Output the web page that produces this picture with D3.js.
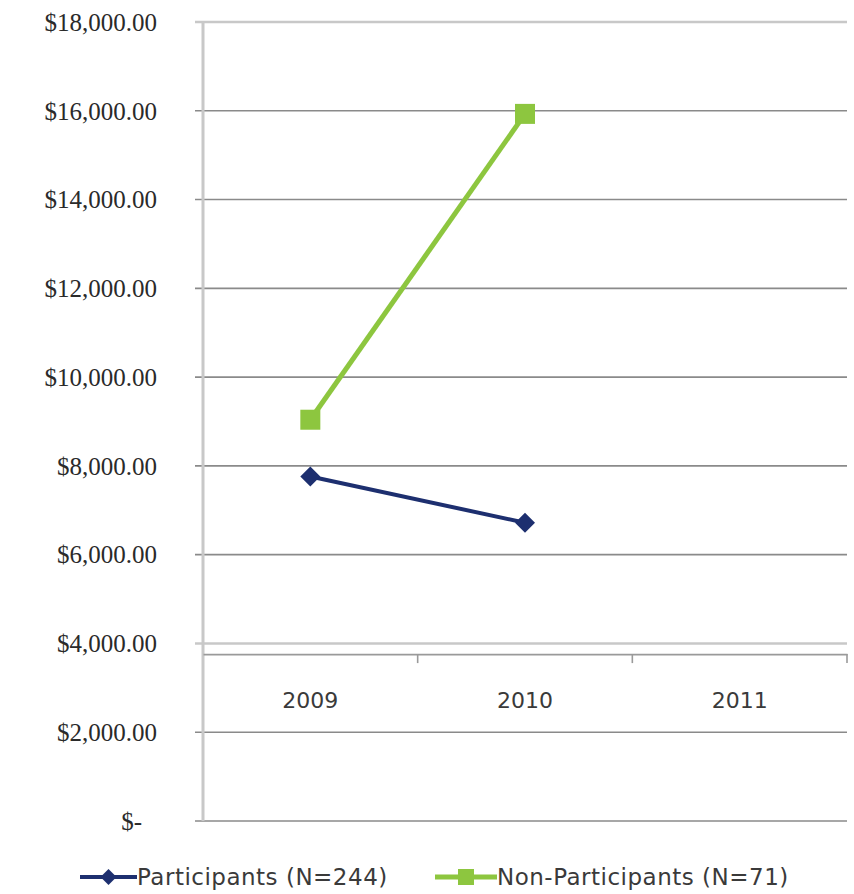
<!DOCTYPE html>
<html>
<head>
<meta charset="utf-8">
<script src="https://cdn.jsdelivr.net/npm/d3@7"></script>
<style>
  body { margin: 0; background: #fff; }
  svg { display: block; }
</style>
</head>
<body>
<div id="container"></div>
<script>
// ==================== data ==================== //

const years = ["2009", "2010", "2011"];
const participants = [7760, 6720, null];
const nonParticipants = [9040, 15930, null];
const yTicks = [0, 2000, 4000, 6000, 8000, 10000, 12000, 14000, 16000, 18000];
const seriesNames = ["Participants (N=244)", "Non-Participants (N=71)"];
const axisCross = 3760;

// ==================== layout ==================== //

const width = 854, height = 894;
const plot = { left: 203, right: 847, top: 22, bottom: 821 };

const svg = d3.select("#container")
    .append("svg")
    .attr("width", width)
    .attr("height", height);

const x = d3.scaleBand()
    .domain(years)
    .range([plot.left, plot.right]);

const y = d3.scaleLinear()
    .domain([0, 18000])
    .range([plot.bottom, plot.top]);

const fmt = v => v === 0 ? "$-" : "$" + d3.format(",.2f")(v);

// gridlines
svg.append("g")
    .selectAll("line")
    .data(yTicks)
    .join("line")
    .attr("x1", plot.left - 8)
    .attr("x2", plot.right)
    .attr("y1", d => y(d))
    .attr("y2", d => y(d))
    .attr("stroke", d => d === 18000 || d === 4000 ? "#c8c8c8" : "#8a8a8a")
    .attr("stroke-width", d => d === 18000 || d === 4000 ? 2.5 : 1.6);

// y axis line
svg.append("line")
    .attr("x1", plot.left).attr("x2", plot.left)
    .attr("y1", plot.top).attr("y2", plot.bottom)
    .attr("stroke", "#c8c8c8")
    .attr("stroke-width", 3);

// y labels
svg.append("g")
    .selectAll("text")
    .data(yTicks)
    .join("text")
    .attr("x", d => d === 0 ? 142 : 157)
    .attr("y", d => y(d))
    .attr("dy", "0.35em")
    .attr("text-anchor", "end")
    .attr("font-family", "Liberation Serif, serif")
    .attr("font-size", 25)
    .attr("fill", "#2a2a2a")
    .text(fmt);

// category axis, crossing the value axis
const xAxis = d3.axisBottom(x).tickSize(0).tickFormat(d => d);
const xg = svg.append("g")
    .attr("transform", `translate(0,${y(axisCross)})`)
    .call(xAxis);
xg.select(".domain").attr("stroke", "#9a9a9a").attr("stroke-width", 1.6);
xg.selectAll("text")
    .attr("y", 46)
    .attr("dy", "0.35em")
    .attr("font-family", "DejaVu Sans, sans-serif")
    .attr("font-size", 22)
    .attr("fill", "#3a3a3a");

// tick marks between categories
svg.append("g")
    .selectAll("line")
    .data(years.slice(1).concat(["end"]))
    .join("line")
    .attr("x1", (d, i) => i < years.length - 1 ? x(years[i + 1]) : plot.right)
    .attr("x2", (d, i) => i < years.length - 1 ? x(years[i + 1]) : plot.right)
    .attr("y1", y(axisCross))
    .attr("y2", y(axisCross) + 9)
    .attr("stroke", "#9a9a9a")
    .attr("stroke-width", 1.6);

// ==================== series ==================== //

const navy = "#1d2f6f";
const green = "#8dc63f";

const cx = d => x(d) + x.bandwidth() / 2;

const line = d3.line()
    .defined(d => d.v !== null)
    .x(d => cx(d.year))
    .y(d => y(d.v));

const diamondPath = r => `M0,${-r}L${r},0L0,${r}L${-r},0Z`;

const partData = years.map((yr, i) => ({ year: yr, v: participants[i] }));
const nonData = years.map((yr, i) => ({ year: yr, v: nonParticipants[i] }));

svg.append("path")
    .datum(nonData)
    .attr("d", line)
    .attr("fill", "none")
    .attr("stroke", green)
    .attr("stroke-width", 5);

svg.append("g")
    .selectAll("rect")
    .data(nonData.filter(d => d.v !== null))
    .join("rect")
    .attr("x", d => cx(d.year) - 10)
    .attr("y", d => y(d.v) - 10)
    .attr("width", 20)
    .attr("height", 20)
    .attr("fill", green);

svg.append("path")
    .datum(partData)
    .attr("d", line)
    .attr("fill", "none")
    .attr("stroke", navy)
    .attr("stroke-width", 4);

svg.append("g")
    .selectAll("path")
    .data(partData.filter(d => d.v !== null))
    .join("path")
    .attr("d", diamondPath(10))
    .attr("transform", d => `translate(${cx(d.year)},${y(d.v)})`)
    .attr("fill", navy);

// ==================== legend ==================== //

const legendY = 877;
const legendItems = [
    { name: seriesNames[0], color: navy, x1: 80, x2: 137, marker: "diamond" },
    { name: seriesNames[1], color: green, x1: 435, x2: 497, marker: "square" }
];

const lg = svg.append("g")
    .selectAll("g")
    .data(legendItems)
    .join("g");

lg.append("line")
    .attr("x1", d => d.x1).attr("x2", d => d.x2)
    .attr("y1", legendY).attr("y2", legendY)
    .attr("stroke", d => d.color)
    .attr("stroke-width", d => d.marker === "square" ? 5 : 4);

lg.each(function (d) {
    const g = d3.select(this);
    const mx = (d.x1 + d.x2) / 2;
    if (d.marker === "square") {
        g.append("rect")
            .attr("x", mx - 8).attr("y", legendY - 8)
            .attr("width", 16).attr("height", 16)
            .attr("fill", d.color);
    } else {
        g.append("path")
            .attr("d", diamondPath(8))
            .attr("transform", `translate(${mx},${legendY})`)
            .attr("fill", d.color);
    }
});

lg.append("text")
    .attr("x", d => d.x2)
    .attr("y", legendY)
    .attr("dy", "0.36em")
    .attr("font-family", "DejaVu Sans, sans-serif")
    .attr("font-size", 23)
    .attr("letter-spacing", 0.5)
    .attr("fill", "#3a3a3a")
    .text(d => d.name);
</script>
</body>
</html>
